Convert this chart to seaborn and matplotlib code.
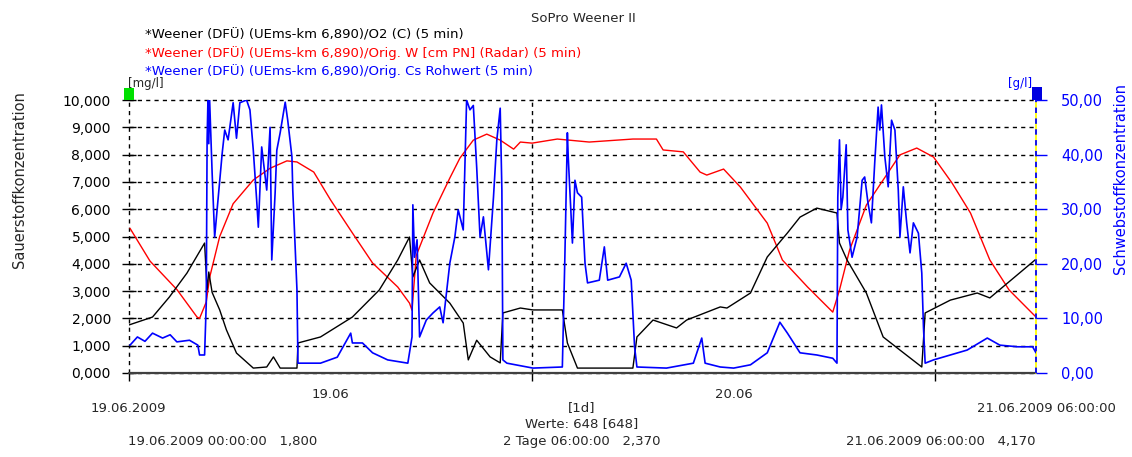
import numpy as np
import pandas as pd
import matplotlib
matplotlib.use("Agg")
import matplotlib.pyplot as plt
import seaborn as sns
from matplotlib.patches import Rectangle
from matplotlib.ticker import FuncFormatter

# ---------------- data (hours since 19.06.2009 00:00) ----------------
o2_hours = [0.0, 1.4, 2.4, 3.45, 4.5, 4.65, 4.75, 4.95, 5.4, 5.8, 6.4, 7.4, 8.2, 8.6, 9.0, 10.0,
            10.06, 11.4, 13.3, 14.9, 16.0, 16.7, 16.9, 17.3, 17.9, 19.1, 19.9, 20.2, 20.7, 21.5,
            22.1, 22.26, 23.3, 24.05, 25.8, 26.1, 26.7, 30.0, 30.24, 31.2, 32.6, 33.2, 35.2,
            35.6, 37.0, 38.0, 39.2, 39.95, 40.95, 42.15, 42.3, 42.75, 43.9, 44.9, 45.9, 47.2,
            47.4, 48.9, 50.5, 51.25, 54.0]
o2_mgl = [1.76, 2.05, 2.78, 3.66, 4.76, 3.04, 3.70, 2.95, 2.31, 1.58, 0.73, 0.18, 0.22, 0.59, 0.18, 0.18,
          1.10, 1.32, 2.05, 3.04, 4.14, 4.98, 3.52, 4.14, 3.30, 2.56, 1.83, 0.48, 1.20, 0.59,
          0.37, 2.20, 2.38, 2.31, 2.31, 1.10, 0.18, 0.18, 1.32, 1.94, 1.65, 1.94, 2.42,
          2.38, 2.93, 4.25, 5.13, 5.71, 6.04, 5.86, 4.76, 4.14, 2.93, 1.32, 0.84, 0.22,
          2.20, 2.67, 2.93, 2.75, 4.17]

w_hours = [0.06, 1.25, 2.86, 4.05, 4.2, 4.6, 4.8, 5.4, 6.2, 7.4, 8.4, 9.4, 10.0, 11.0, 12.0, 13.3,
           14.5, 16.0, 16.7, 16.85, 17.1, 18.1, 19.1, 19.7, 20.5, 21.3, 22.1, 22.9, 23.3, 24.0,
           25.5, 27.4, 30.0, 31.4, 31.8, 33.0, 34.0, 34.4, 35.4, 36.4, 38.0, 38.9, 40.4, 41.9,
           42.3, 42.9, 43.9, 44.9, 45.9, 46.9, 47.9, 49.0, 50.1, 51.25, 52.4, 54.0]
w_level = [5.30, 4.10, 3.05, 2.05, 2.00, 2.60, 3.50, 5.00, 6.20, 7.07, 7.50, 7.77, 7.73, 7.36, 6.34, 5.13,
           4.03, 3.15, 2.56, 2.30, 4.30, 5.86, 7.14, 7.87, 8.53, 8.75, 8.53, 8.20, 8.46, 8.42,
           8.57, 8.46, 8.57, 8.57, 8.17, 8.10, 7.36, 7.25, 7.47, 6.81, 5.49, 4.14, 3.15, 2.23,
           3.04, 4.50, 6.15, 7.07, 7.99, 8.24, 7.91, 6.96, 5.86, 4.14, 3.04, 2.05]

cs_hours = [0.06, 0.5, 0.95, 1.4, 2.0, 2.45, 2.85, 3.6, 4.1, 4.2, 4.5, 4.6, 4.65, 4.7, 4.75, 4.8,
            4.95, 5.1, 5.3, 5.55, 5.7, 5.9, 6.2, 6.4, 6.6, 7.0, 7.2, 7.4, 7.6, 7.7, 7.9, 8.2,
            8.4, 8.5, 8.7, 8.8, 9.0, 9.3, 9.45, 9.7, 9.75, 10.0, 10.06, 11.4, 12.4, 13.2, 13.3,
            13.9, 14.5, 15.4, 16.6, 16.85, 16.9, 17.0, 17.15, 17.3, 17.7, 18.1, 18.5, 18.7,
            19.1, 19.4, 19.6, 19.9, 20.1, 20.3, 20.5, 20.7, 20.9, 21.1, 21.4, 21.7, 21.9, 22.1,
            22.2, 22.26, 22.5, 24.05, 25.8, 25.95, 26.1, 26.15, 26.4, 26.55, 26.7, 26.95, 27.15,
            27.3, 28.0, 28.3, 28.5, 29.2, 29.6, 29.9, 30.1, 30.24, 32.0, 33.6, 34.1, 34.3, 35.2,
            36.0, 37.0, 38.0, 38.75, 39.2, 39.95, 40.95, 41.9, 42.15, 42.2, 42.3, 42.4, 42.5,
            42.7, 42.8, 43.05, 43.35, 43.65, 43.8, 44.0, 44.2, 44.4, 44.6, 44.7, 44.8, 45.0,
            45.2, 45.4, 45.6, 45.8, 45.9, 46.1, 46.3, 46.5, 46.7, 47.0, 47.2, 47.3, 47.4, 47.9,
            49.9, 51.1, 51.85, 52.9, 53.8, 54.0]
cs_gl = [5.1, 6.6, 5.8, 7.3, 6.4, 7.0, 5.7, 6.0, 5.1, 3.3, 3.3, 12.8, 42.7, 50.0, 42.0, 50.0,
         36.6, 24.9, 31.7, 40.3, 44.5, 42.7, 49.5, 43.0, 49.5, 50.0, 48.2, 40.8, 31.7, 26.7, 41.4, 33.5,
         45.0, 20.7, 33.0, 40.8, 44.0, 49.6, 46.3, 39.6, 33.5, 15.2, 1.8, 1.8, 2.9, 7.3, 5.5,
         5.5, 3.7, 2.4, 1.8, 6.6, 30.8, 21.2, 24.4, 6.6, 9.7, 11.0, 12.1, 9.2,
         20.1, 24.9, 29.9, 26.2, 50.0, 48.2, 49.0, 37.7, 24.9, 28.6, 18.9, 32.2, 42.7, 48.5,
         33.5, 2.4, 1.8, 0.9, 1.1, 21.2, 44.0, 39.6, 23.8, 35.3, 33.0, 32.2, 20.1,
         16.5, 17.0, 23.1, 17.0, 17.6, 20.1, 17.0, 4.8, 1.1, 0.9, 1.8, 6.4, 1.8, 1.1,
         0.9, 1.5, 3.7, 9.3, 7.3, 3.7, 3.3, 2.7, 1.8, 32.2, 42.7, 30.0, 32.2,
         41.8, 26.2, 21.2, 24.9, 35.3, 35.9, 31.1, 27.5, 38.6, 48.7, 44.5, 49.1, 39.6,
         34.1, 46.3, 44.5, 33.5, 24.9, 34.1, 27.5, 22.0, 27.5, 25.6, 18.3, 8.4, 1.8, 2.4,
         4.2, 6.4, 5.1, 4.8, 4.8, 3.7]

left_ticks = [0, 1, 2, 3, 4, 5, 6, 7, 8, 9, 10]
right_ticks = [0, 10, 20, 30, 40, 50]
day_ticks = [0, 24, 48]
day_label_pos = [12, 36]
day_labels = ["19.06", "20.06"]

title = "SoPro Weener II"
series_names = ["*Weener (DFÜ) (UEms-km 6,890)/O2 (C) (5 min)",
                "*Weener (DFÜ) (UEms-km 6,890)/Orig. W [cm PN] (Radar) (5 min)",
                "*Weener (DFÜ) (UEms-km 6,890)/Orig. Cs Rohwert (5 min)"]
series_colors = ["black", "#ff0000", "#0000ff"]

# ---------------- figure ----------------
sns.set_style("white")
plt.rcParams['font.family'] = ['DejaVu Sans']

W, H = 1132, 457
def fx(p): return p / W
def fy(p): return 1 - p / H

fig = plt.figure(figsize=(W / 100, H / 100), dpi=100)
ax = fig.add_axes([fx(129), fy(373), (1036 - 129) / W, (373 - 100) / H])
ax2 = ax.twinx()

df_o2 = pd.DataFrame({"t": o2_hours, "v": o2_mgl})
df_w = pd.DataFrame({"t": w_hours, "v": w_level})
df_cs = pd.DataFrame({"t": cs_hours, "v": cs_gl})

sns.lineplot(data=df_w, x="t", y="v", ax=ax, color=series_colors[1], lw=1.0, estimator=None, zorder=3)
sns.lineplot(data=df_o2, x="t", y="v", ax=ax, color=series_colors[0], lw=1.0, estimator=None, zorder=4)
sns.lineplot(data=df_cs, x="t", y="v", ax=ax2, color=series_colors[2], lw=1.2, estimator=None, zorder=3)

ax.set_xlim(0, 54)
ax.set_ylim(0, 10)
ax2.set_ylim(0, 50)
ax.set_xlabel("")
ax.set_ylabel("")
ax2.set_ylabel("")

dash = (0, (3, 3))
# left axis ticks & grid
ax.set_yticks(left_ticks)
ax.yaxis.set_major_formatter(FuncFormatter(lambda v, p: f"{v:.3f}".replace(".", ",")))
ax.tick_params(axis="y", direction="inout", length=10, width=1, colors="black",
               labelsize=10, pad=8, left=True)
for v in left_ticks:
    ax.axhline(v, color="black", lw=1, ls=dash, zorder=1, clip_on=False)
for d in day_ticks:
    ax.axvline(d, color="black", lw=1, ls=dash, zorder=1, clip_on=False)

ax.set_xticks(day_ticks)
ax.set_xticklabels(["", "", ""])
ax.tick_params(axis="x", direction="out", length=6, width=1, colors="black", bottom=True)
ax.set_xticks(day_label_pos, minor=True)
ax.set_xticklabels(day_labels, minor=True)
ax.tick_params(axis="x", which="minor", length=0, labelsize=9.5, pad=11)

# right axis
ax2.set_yticks(right_ticks)
ax2.yaxis.set_major_formatter(FuncFormatter(lambda v, p: f"{v:.2f}".replace(".", ",")))
ax2.tick_params(axis="y", direction="out", length=8, width=1, colors="#0000ff",
                labelsize=10.5, pad=10, right=True)

for a in (ax, ax2):
    for s in ("top", "left", "right", "bottom"):
        a.spines[s].set_visible(False)
    a.patch.set_visible(False)

# bottom solid axis line
ax.axhline(0, color="#404040", lw=1.6, zorder=6, clip_on=False)
# right axis line: yellow with blue dashes
ax.axvline(54, color="#ffff00", lw=1.3, zorder=6, clip_on=False)
ax.axvline(54, color="#0000ff", lw=1.3, ls=dash, zorder=7, clip_on=False)

# marker squares
fig.add_artist(Rectangle((fx(124), fy(100)), 10 / W, 12 / H, transform=fig.transFigure,
                         facecolor="#00e000", edgecolor="none"))
fig.add_artist(Rectangle((fx(1032), fy(100)), 10 / W, 13 / H, transform=fig.transFigure,
                         facecolor="#0000e0", edgecolor="none"))

# texts
fig.text(fx(583), fy(18), title, ha="center", va="center", fontsize=9.5)
for i, (name, c) in enumerate(zip(series_names, series_colors)):
    fig.text(fx(145), fy(35 + 18 * i), name, ha="left", va="center", fontsize=9.5, color=c)
fig.text(fx(128), fy(84), "[mg/l]", ha="left", va="center", fontsize=8.5)
fig.text(fx(1032), fy(84), "[g/l]", ha="right", va="center", fontsize=8.5, color="#0000ff")

fig.text(fx(20), fy(180), "Sauerstoffkonzentration", rotation=90, ha="center", va="center",
         fontsize=10.5)
fig.text(fx(1121), fy(178), "Schwebstoffkonzentration", rotation=90, ha="center", va="center",
         fontsize=10.5, color="#0000ff")

fig.text(fx(128), fy(408), "19.06.2009", ha="center", va="center", fontsize=9.5)
fig.text(fx(582), fy(408), "[1d]", ha="center", va="center", fontsize=9.5)
fig.text(fx(1116), fy(408), "21.06.2009 06:00:00", ha="right", va="center", fontsize=9.5)
fig.text(fx(582), fy(424), "Werte: 648 [648]", ha="center", va="center", fontsize=9.5)
fig.text(fx(128), fy(441), "19.06.2009 00:00:00   1,800", ha="left", va="center", fontsize=9.5)
fig.text(fx(582), fy(441), "2 Tage 06:00:00   2,370", ha="center", va="center", fontsize=9.5)
fig.text(fx(1036), fy(441), "21.06.2009 06:00:00   4,170", ha="right", va="center", fontsize=9.5)

fig.savefig("out.png", dpi=100)
